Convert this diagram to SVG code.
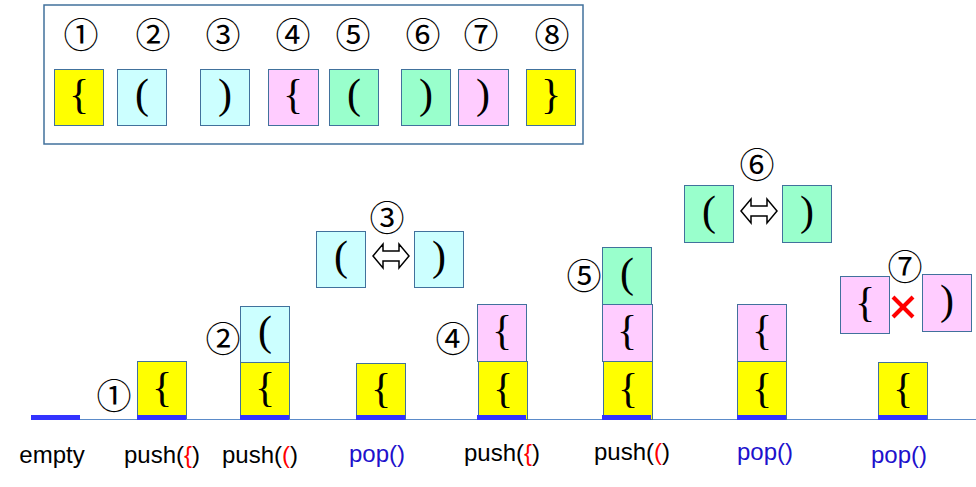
<svg xmlns="http://www.w3.org/2000/svg" width="976" height="487" viewBox="0 0 976 487">
<defs>
<style>
.box{stroke:#41719c;stroke-width:1}
.y{fill:#ffff00}.c{fill:#ccffff}.p{fill:#ffccff}.g{fill:#99ffcc}
.br{font-family:"Liberation Serif","Times New Roman",serif;font-size:42px;fill:#000;text-anchor:middle}
.num{font-family:"Noto Sans CJK JP","DejaVu Sans",sans-serif;font-size:35px;fill:#000;text-anchor:middle;dominant-baseline:central}
.lbl{font-family:"Liberation Sans",Arial,sans-serif;font-size:24px;fill:#000;text-anchor:middle}
.red{fill:#ff0000}
.blue{fill:#2010cc}
.bar{fill:#3333ff}
.arr{fill:#ffffff;stroke:#000;stroke-width:1.5;stroke-linejoin:miter}
</style>
<symbol id="dbl" viewBox="0 0 36 24" overflow="visible">
<polygon class="arr" points="0,12 10,0 10,7 26,7 26,0 36,12 26,24 26,17 10,17 10,24"/>
</symbol>
</defs>
<rect width="976" height="487" fill="#ffffff"/>

<g id="legend">
<rect x="44" y="5" width="539" height="139" fill="#ffffff" stroke="#41719c" stroke-width="1.5"/>
<text class="num" x="81" y="32">①</text>
<text class="num" x="153" y="32">②</text>
<text class="num" x="223" y="32">③</text>
<text class="num" x="293" y="32">④</text>
<text class="num" x="353" y="32">⑤</text>
<text class="num" x="423" y="32">⑥</text>
<text class="num" x="481" y="32">⑦</text>
<text class="num" x="552" y="32">⑧</text>
<rect class="box y" x="54.5" y="69.5" width="49" height="56"/><text class="br" x="79" y="108">{</text>
<rect class="box c" x="117.5" y="69.5" width="49" height="56"/><text class="br" x="142" y="108">(</text>
<rect class="box c" x="200.5" y="69.5" width="49" height="56"/><text class="br" x="225" y="108">)</text>
<rect class="box p" x="268.5" y="69.5" width="50" height="56"/><text class="br" x="293" y="108">{</text>
<rect class="box g" x="329.5" y="69.5" width="49" height="56"/><text class="br" x="354" y="108">(</text>
<rect class="box g" x="401.5" y="69.5" width="49" height="56"/><text class="br" x="426" y="108">)</text>
<rect class="box p" x="458.5" y="69.5" width="50" height="56"/><text class="br" x="483" y="108">)</text>
<rect class="box y" x="526.5" y="69.5" width="49" height="56"/><text class="br" x="551" y="108">}</text>
</g>

<g id="connectors">
<line x1="80" y1="419.5" x2="976" y2="419.5" stroke="#5b8bc9" stroke-width="1.2"/>
</g>

<g id="s0">
<rect class="bar" x="31" y="415" width="49" height="5"/>
<text class="lbl" x="52" y="463">empty</text>
</g>

<g id="s1">
<text class="num" x="114" y="393">①</text>
<rect class="box y" x="137.5" y="361.5" width="49" height="57"/><text class="br" x="162" y="401">{</text>
<rect class="bar" x="137" y="415" width="49" height="5"/>
<text class="lbl" x="162" y="463">push(<tspan class="red">{</tspan>)</text>
</g>

<g id="s2">
<text class="num" x="223" y="336">②</text>
<rect class="box c" x="240.5" y="306.5" width="49" height="56"/><text class="br" x="265" y="345">(</text>
<rect class="box y" x="240.5" y="362.5" width="49" height="56"/><text class="br" x="265" y="401">{</text>
<rect class="bar" x="240" y="415" width="49" height="5"/>
<text class="lbl" x="260" y="463">push(<tspan class="red">(</tspan>)</text>
</g>

<g id="s3">
<text class="num" x="387" y="215">③</text>
<rect class="box c" x="316.5" y="231.5" width="49" height="56"/><text class="br" x="341" y="270">(</text>
<use href="#dbl" x="373" y="244" width="36" height="24"/>
<rect class="box c" x="414.5" y="231.5" width="49" height="56"/><text class="br" x="439" y="270">)</text>
<rect class="box y" x="356.5" y="363.5" width="49" height="56"/><text class="br" x="381" y="402">{</text>
<rect class="bar" x="356" y="415" width="49" height="5"/>
<text class="lbl blue" x="377" y="462">pop()</text>
</g>

<g id="s4">
<text class="num" x="453" y="336">④</text>
<rect class="box p" x="477.5" y="304.5" width="49" height="57"/><text class="br" x="502" y="344">{</text>
<rect class="box y" x="478.5" y="361.5" width="49" height="58"/><text class="br" x="503" y="402">{</text>
<rect class="bar" x="477" y="415" width="49" height="5"/>
<text class="lbl" x="502" y="461">push(<tspan class="red">{</tspan>)</text>
</g>

<g id="s5">
<text class="num" x="584" y="273">⑤</text>
<rect class="box g" x="602.5" y="247.5" width="49" height="57"/><text class="br" x="627" y="287">(</text>
<rect class="box p" x="602.5" y="304.5" width="50" height="57"/><text class="br" x="627" y="344">{</text>
<rect class="box y" x="603.5" y="361.5" width="49" height="58"/><text class="br" x="628" y="402">{</text>
<rect class="bar" x="602" y="415" width="49" height="5"/>
<text class="lbl" x="632" y="460">push(<tspan class="red">(</tspan>)</text>
</g>

<g id="s6">
<text class="num" x="757" y="162">⑥</text>
<rect class="box g" x="684.5" y="185.5" width="49" height="57"/><text class="br" x="709" y="225">(</text>
<use href="#dbl" x="741" y="199" width="36" height="24"/>
<rect class="box g" x="782.5" y="185.5" width="49" height="57"/><text class="br" x="807" y="225">)</text>
<rect class="box p" x="737.5" y="304.5" width="49" height="57"/><text class="br" x="762" y="344">{</text>
<rect class="box y" x="737.5" y="361.5" width="49" height="58"/><text class="br" x="762" y="402">{</text>
<rect class="bar" x="737" y="415" width="49" height="5"/>
<text class="lbl blue" x="765" y="460">pop()</text>
</g>

<g id="s7">
<text class="num" x="905" y="264">⑦</text>
<rect class="box p" x="840.5" y="276.5" width="49" height="57"/><text class="br" x="865" y="316">{</text>
<g stroke="#ff0000" stroke-width="4">
<line x1="893" y1="297" x2="913" y2="317"/>
<line x1="913" y1="297" x2="893" y2="317"/>
</g>
<rect class="box p" x="922.5" y="274.5" width="49" height="57"/><text class="br" x="947" y="314">)</text>
<rect class="box y" x="878.5" y="362.5" width="49" height="57"/><text class="br" x="903" y="402">{</text>
<rect class="bar" x="878" y="415" width="49" height="5"/>
<text class="lbl blue" x="899" y="463">pop()</text>
</g>
</svg>
